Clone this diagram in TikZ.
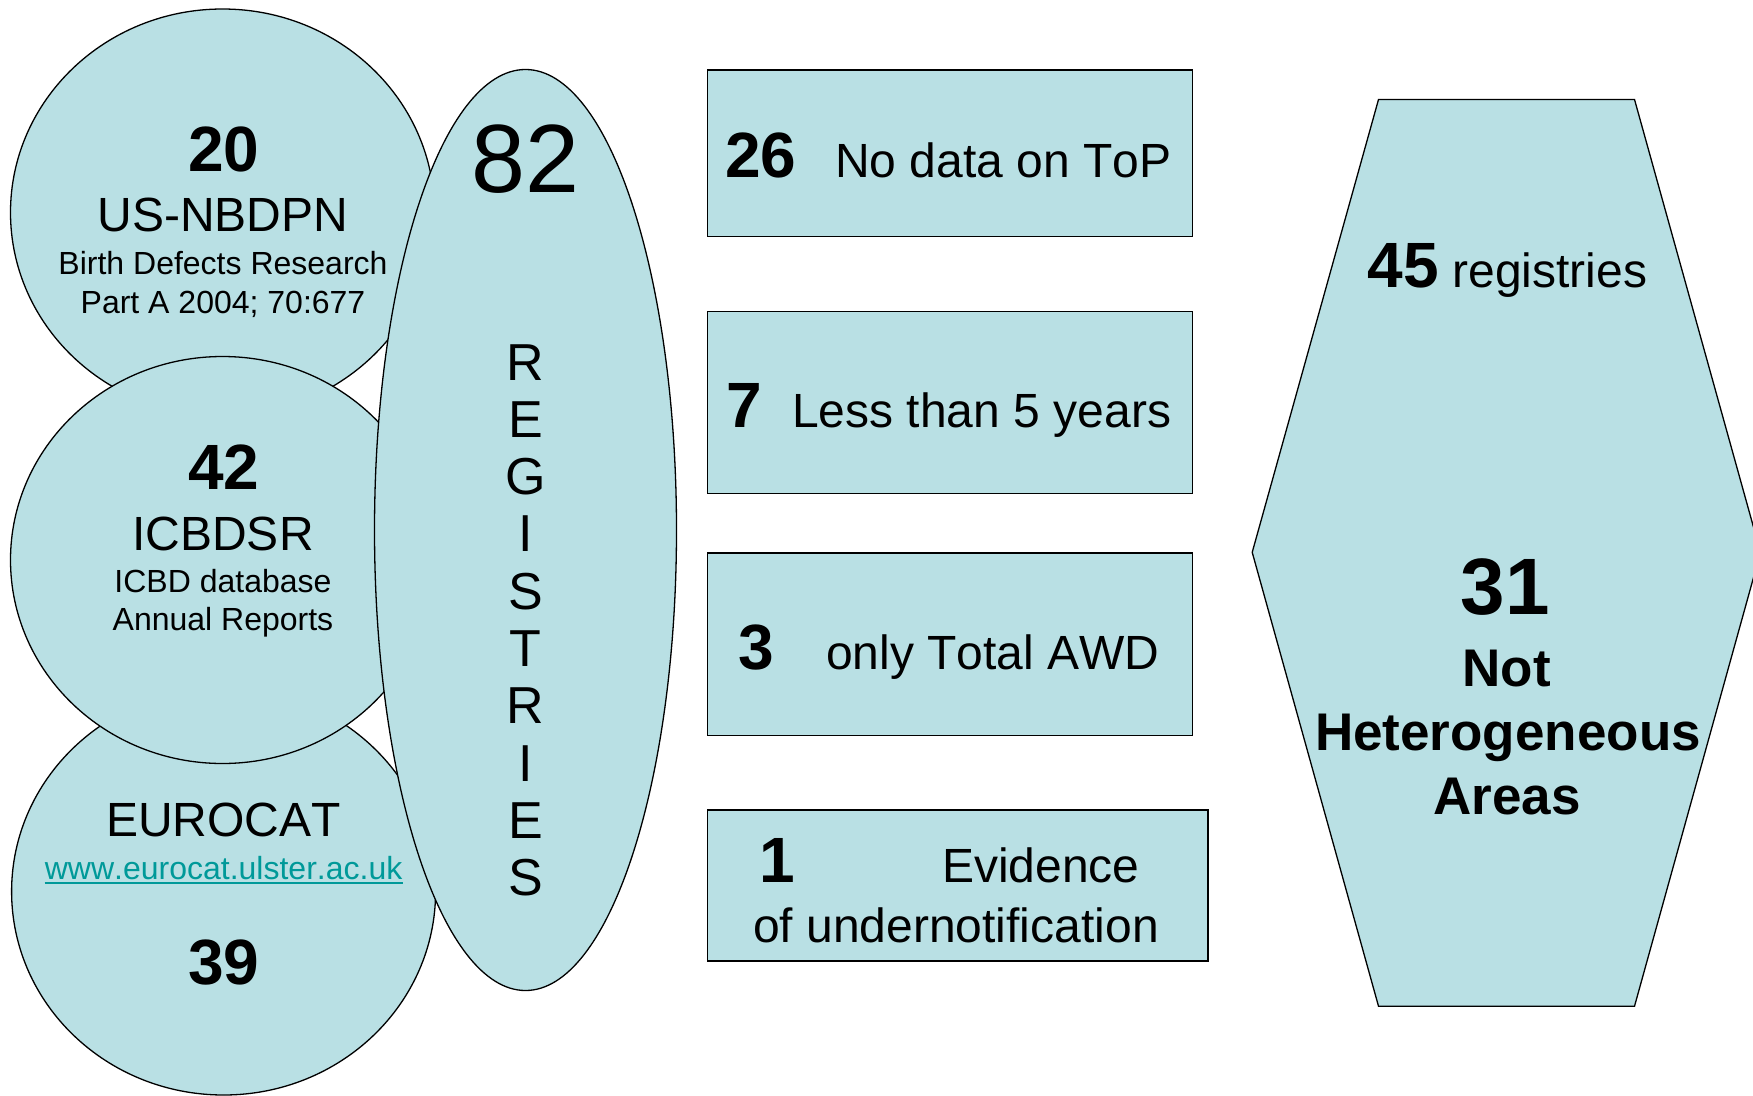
\documentclass[tikz,border=0pt]{standalone}
\usepackage{fontspec}
\setmainfont{Liberation Sans}[Kerning=Off]
\usetikzlibrary{shapes.geometric}
\definecolor{shapefill}{RGB}{185,224,228}
\definecolor{urlteal}{RGB}{0,153,153}
\newcommand{\fsz}[1]{\fontsize{#1}{#1}\selectfont}
\begin{document}
\begin{tikzpicture}[x=1pt,y=-1pt,
  shapestyle/.style={draw=black,line width=1.3pt,fill=shapefill},
  ovalstyle/.style={shapestyle,ellipse,inner sep=0pt},
  boxstyle/.style={shapestyle,rectangle,inner sep=0pt,anchor=north west},
  txt/.style={inner sep=0pt,anchor=base},
  txtl/.style={inner sep=0pt,anchor=base west},
]
\clip (0,0) rectangle (1753,1095);
\fill[white] (0,0) rectangle (1753,1095);

% circles (left)
\node[ovalstyle,minimum width=424pt,minimum height=407pt] (c1) at (222.5,212.5) {};
\node[ovalstyle,minimum width=424pt,minimum height=407pt] (c3) at (223.6,891.5) {};
\node[ovalstyle,minimum width=424pt,minimum height=407pt] (c2) at (222.5,560) {};

% big ellipse
\node[ovalstyle,minimum width=302pt,minimum height=921pt] (reg) at (525.5,530) {};

% boxes
\node[boxstyle,minimum width=485.2pt,minimum height=166.6pt] (b1) at (706.6,69.3) {};
\node[boxstyle,minimum width=485.2pt,minimum height=182.2pt] (b2) at (706.6,310.8) {};
\node[boxstyle,minimum width=485.2pt,minimum height=182.2pt] (b3) at (706.6,552.3) {};
\node[boxstyle,minimum width=500.8pt,minimum height=151pt] (b4) at (706.6,809.4) {};

% hexagon
\draw[shapestyle] (1378.5,99.5) -- (1634.5,99.5) -- (1760.5,552.3) -- (1634.5,1006.2)
  -- (1378.5,1006.2) -- (1252.2,552.3) -- cycle;
\coordinate (hex) at (1506.5,552.3);

% circle 1 text
\node[txt,font=\fsz{64}\bfseries] (t20) at (224,171) {20};
\node[txt,font=\fsz{48}] (tus) at (223,231) {US-NBDPN};
\node[txt,font=\fsz{32}] (tbdr) at (223,274) {Birth Defects Research};
\node[txt,font=\fsz{32}] (tpart) at (223,313) {Part A 2004; 70:677};

% circle 2 text
\node[txt,font=\fsz{64}\bfseries] (t42) at (224,489) {42};
\node[txt,font=\fsz{48}] (ticb) at (223,550) {ICBDSR};
\node[txt,font=\fsz{32}] (tdb) at (223,592.5) {ICBD database};
\node[txt,font=\fsz{32}] (tann) at (223,630.5) {Annual Reports};

% circle 3 text
\node[txt,font=\fsz{48}] (teu) at (223.6,836) {EUROCAT};
\node[txt,font=\fsz{32},text=urlteal] (turl) at (223.6,879) {www.eurocat.ulster.ac.uk};
\draw[urlteal,line width=2.6pt] ([yshift=-4pt]turl.base west) -- ([yshift=-4pt]turl.base east);
\node[txt,font=\fsz{64}\bfseries] (t39) at (224,984) {39};

% ellipse text
\node[txt,font=\fsz{97}] (t82) at (525.5,192.3) {82};
\foreach \l [count=\i from 0] in {R,E,G,I,S,T,R,I,E,S}
  \node[txt,font=\fsz{52}] (reg\i) at (525.5,380+57.3*\i) {\l};

% box texts
\node[txtl,font=\fsz{64}\bfseries] (n26) at (725,177) {26};
\node[txtl,font=\fsz{48}] (l26) at (835,177) {No data on ToP};
\node[txtl,font=\fsz{64}\bfseries] (n7) at (726,427) {7};
\node[txtl,font=\fsz{48}] (l7) at (792,427) {Less than 5 years};
\node[txtl,font=\fsz{64}\bfseries] (n3) at (738,669) {3};
\node[txtl,font=\fsz{48}] (l3) at (826,669) {only Total AWD};
\node[txtl,font=\fsz{64}\bfseries] (n1) at (759,882) {1};
\node[txtl,font=\fsz{48}] (l1a) at (942,882) {Evidence};
\node[txtl,font=\fsz{48}] (l1b) at (753,942) {of undernotification};

% hexagon text
\node[txt] (h45) at (1507.5,287) {\fsz{64}\bfseries 45\fsz{48}\mdseries\ registries};
\node[txt,font=\fsz{80}\bfseries] (h31) at (1505,614) {31};
\node[txt,font=\fsz{53}\bfseries] (hnot) at (1506.5,686.5) {Not};
\node[txt,font=\fsz{53}\bfseries] (hhet) at (1508,750) {Heterogeneous};
\node[txt,font=\fsz{53}\bfseries] (hare) at (1507,814) {Areas};
\end{tikzpicture}
\end{document}
